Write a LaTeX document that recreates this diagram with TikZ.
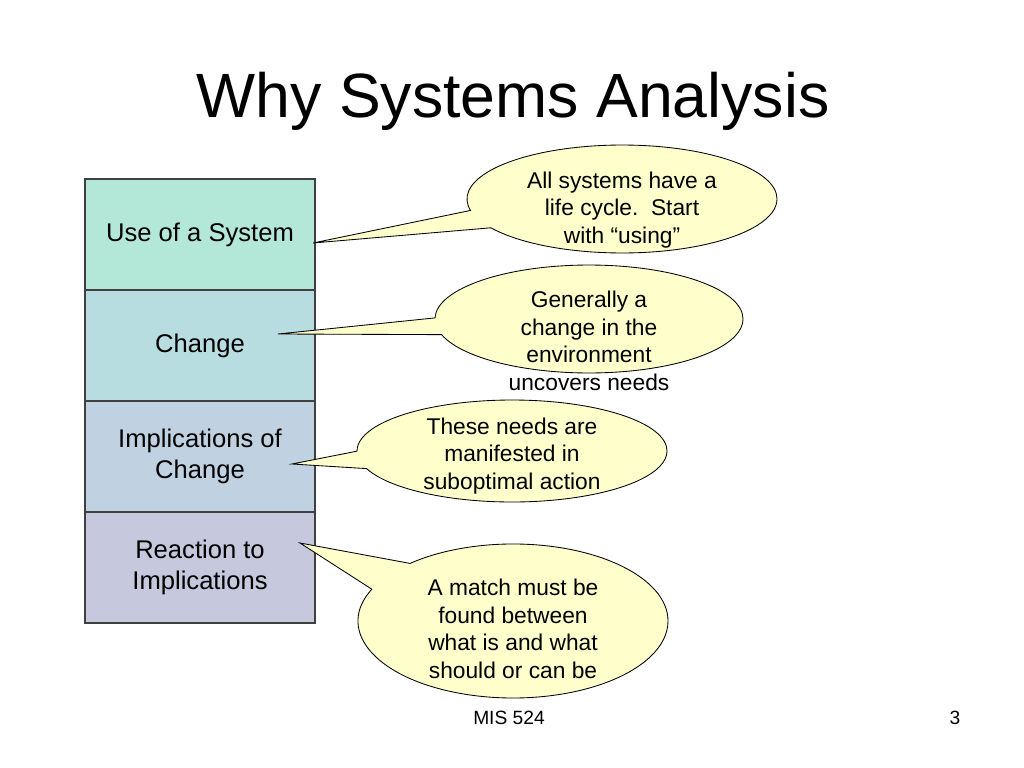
\documentclass[tikz,border=0pt]{standalone}
\usepackage{fontspec}
\setmainfont{Liberation Sans}
\usetikzlibrary{positioning,shapes.callouts}

\definecolor{cellone}{RGB}{179,232,216}
\definecolor{celltwo}{RGB}{184,221,225}
\definecolor{cellthree}{RGB}{192,210,225}
\definecolor{cellfour}{RGB}{198,200,221}
\definecolor{bubblefill}{RGB}{255,255,204}
\definecolor{celledge}{RGB}{64,64,64}

\tikzset{
  cell/.style={draw=celledge, line width=0.8pt, minimum width=161.7pt, minimum height=78.05pt,
    inner sep=0pt, outer sep=0pt, align=center, font=\fontsize{18}{21.6}\selectfont},
  bubble/.style={ellipse callout, draw=black, line width=0.6pt, fill=bubblefill,
    inner sep=0pt, outer sep=0pt, callout pointer arc=20},
  bubbletext/.style={align=center, font=\fontsize{16}{19.3}\selectfont},
  footer/.style={anchor=base, font=\fontsize{13.5}{16}\selectfont}
}

\begin{document}
\begin{tikzpicture}[x=0.703125pt, y=-0.703125pt]
\useasboundingbox (0,0) rectangle (1024,768);

% Title
\node[anchor=base, font=\fontsize{44}{52}\selectfont] (title) at (513,118) {Why Systems Analysis};

% Stack of stages
\node[cell, fill=cellone] (use) at (200,234.5) {Use of a System};
\node[cell, fill=celltwo, below=0pt of use] (change) {Change};
\node[cell, fill=cellthree, below=0pt of change] (impl) {Implications of\\Change};
\node[cell, fill=cellfour, below=0pt of impl] (react) {Reaction to\\Implications};

% Tips of the callouts
\coordinate (p1) at (313,243);
\coordinate (p2) at (278,334);
\coordinate (p3) at (292,464);
\coordinate (p4) at (300,543);

% Callouts
\node[bubble, minimum width=218pt, minimum height=75.9pt, callout absolute pointer={(p1)}] (b1) at (622,199) {};
\node[bubble, minimum width=216.6pt, minimum height=75.9pt, callout absolute pointer={(p2)}, callout pointer arc=18] (b2) at (589,319) {};
\node[bubble, minimum width=218pt, minimum height=71.7pt, callout absolute pointer={(p3)}] (b3) at (512,451) {};
\node[bubble, minimum width=218pt, minimum height=108.3pt, callout absolute pointer={(p4)}, callout pointer arc=24] (b4) at (513,621) {};

% Callout texts
\node[bubbletext] (t1) at (622,210) {All systems have a\\life cycle.\ \ Start\\with “using”};
\node[bubbletext] (t2) at (589,341) {Generally a\\change in the\\environment\\uncovers needs};
\node[bubbletext] (t3) at (512,456) {These needs are\\manifested in\\suboptimal action};
\node[bubbletext] (t4) at (513,629) {A match must be\\found between\\what is and what\\should or can be};

% Footer
\node[footer] (course) at (509,724) {MIS 524};
\node[footer] (page) at (955,724) {3};

\end{tikzpicture}
\end{document}
